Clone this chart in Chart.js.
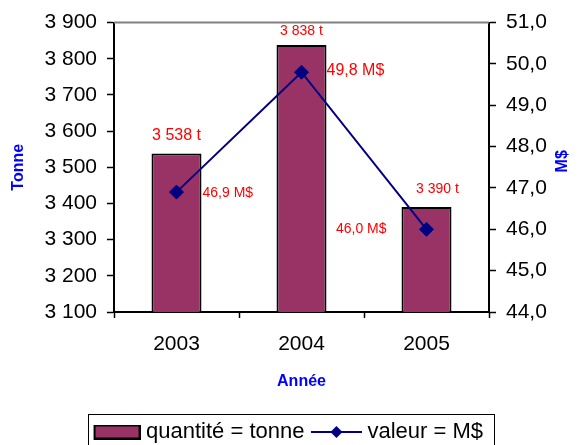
<!DOCTYPE html>
<html lang="fr">
<head>
<meta charset="utf-8">
<title>Quantité et valeur</title>
<script src="https://cdn.jsdelivr.net/npm/chart.js@4.4.0/dist/chart.umd.min.js"></script>
<style>
    html, body { margin: 0; padding: 0; background: #ffffff; }
    .conteneur { width: 578px; height: 445px; }
</style>
</head>
<body>
<div class="conteneur"><canvas id="monGraphique" width="578" height="445"></canvas></div>
<script>
// DONNÉES
const annees = ["2003", "2004", "2005"]
const quantites = [3538, 3838, 3390] // tonnes
const valeurs = [46.9, 49.8, 46.0] // M$
const limitesTonne = [3100, 3900] // axe gauche, pas de 100
const limitesValeur = [44, 51] // axe droit, pas de 1

const POLICE = "Arial, 'Liberation Sans', sans-serif"
const PRUNE = "#993366"
const MARINE = "#000080"

// FONCTIONS
function formatMilliers(v) {
    return String(v).replace(/\B(?=(\d{3})+(?!\d))/g, " ")
}

function formatDecimal(v) {
    return Number(v).toFixed(1).replace(".", ",")
}

// pastilles de la légende : 51 px de large, centrées sur une case de 40 px
function creerPastilleBarre() {
    const c = document.createElement("canvas")
    c.width = 51
    c.height = 15
    const ctx = c.getContext("2d")
    ctx.fillStyle = "#000000"
    ctx.fillRect(4, 0, 47, 15)
    ctx.fillStyle = PRUNE
    ctx.fillRect(6, 2, 43, 11)
    return c
}

function creerPastilleLigne() {
    const c = document.createElement("canvas")
    c.width = 51
    c.height = 16
    const ctx = c.getContext("2d")
    ctx.strokeStyle = MARINE
    ctx.lineWidth = 2
    ctx.beginPath()
    ctx.moveTo(0, 8)
    ctx.lineTo(51, 8)
    ctx.stroke()
    ctx.fillStyle = MARINE
    ctx.beginPath()
    ctx.moveTo(25.5, 2)
    ctx.lineTo(31.5, 8)
    ctx.lineTo(25.5, 14)
    ctx.lineTo(19.5, 8)
    ctx.closePath()
    ctx.fill()
    return c
}

// cadre gris en haut, titre M$ à droite et bordure de la légende
const cadre = {
    id: "cadre",
    beforeDatasetsDraw(chart) {
        const { ctx, chartArea } = chart
        ctx.save()
        ctx.strokeStyle = "#808080"
        ctx.lineWidth = 2
        ctx.beginPath()
        ctx.moveTo(chartArea.left, chartArea.top)
        ctx.lineTo(chartArea.right, chartArea.top)
        ctx.stroke()
        ctx.restore()
    },
    afterDraw(chart) {
        const { ctx, chartArea } = chart
        ctx.save()
        // titre de l'axe droit, écrit de bas en haut comme dans Excel
        ctx.translate(563, (chartArea.top + chartArea.bottom) / 2 - 6)
        ctx.rotate(-Math.PI / 2)
        ctx.font = "bold 16px " + POLICE
        ctx.fillStyle = "#0000ff"
        ctx.textAlign = "center"
        ctx.textBaseline = "middle"
        ctx.fillText("M$", 0, 0)
        ctx.restore()

        const boites = chart.legend.legendHitBoxes
        if (!boites || !boites.length) return
        const premiere = boites[0]
        const derniere = boites[boites.length - 1]
        const gauche = premiere.left - 7
        const droite = derniere.left + derniere.width + 11
        const haut = premiere.top - 7
        ctx.save()
        ctx.strokeStyle = "#000000"
        ctx.lineWidth = 1
        ctx.strokeRect(Math.round(gauche) + 0.5, Math.round(haut) + 0.5, Math.round(droite - gauche), 60)
        ctx.restore()
    }
}

// étiquettes rouges des valeurs
const etiquettes = {
    id: "etiquettes",
    afterDatasetsDraw(chart, args, opts) {
        const ctx = chart.ctx
        ctx.save()
        ctx.fillStyle = "#ff0000"
        ctx.textBaseline = "middle"
        chart.getDatasetMeta(0).data.forEach((barre, i) => {
            const p = opts.barres[i]
            ctx.font = p.taille + "px " + POLICE
            ctx.textAlign = "center"
            ctx.fillText(formatMilliers(quantites[i]) + " t", barre.x + p.dx, barre.y + p.dy)
        })
        chart.getDatasetMeta(1).data.forEach((point, i) => {
            const p = opts.points[i]
            ctx.font = p.taille + "px " + POLICE
            ctx.textAlign = p.alignement
            ctx.fillText(formatDecimal(valeurs[i]) + " M$", point.x + p.dx, point.y + p.dy)
        })
        ctx.restore()
    }
}

const pastilleBarre = creerPastilleBarre()
const pastilleLigne = creerPastilleLigne()
const policeAxes = { family: POLICE, size: 21 }

const ctx = document.getElementById("monGraphique").getContext("2d")
const graphique = new Chart(ctx, {
    type: "bar",
    data: {
        labels: annees,
        datasets: [
            {
                type: "bar",
                label: "quantité = tonne",
                data: quantites,
                yAxisID: "y",
                backgroundColor: PRUNE,
                borderColor: "#000000",
                borderWidth: 2,
                barPercentage: 0.4,
                categoryPercentage: 1,
                order: 1,
            },
            {
                type: "line",
                label: "valeur = M$",
                data: valeurs,
                yAxisID: "y1",
                borderColor: MARINE,
                borderWidth: 2,
                pointStyle: "rectRot",
                pointRadius: 7,
                pointBackgroundColor: MARINE,
                pointBorderColor: MARINE,
                pointBorderWidth: 1,
                tension: 0,
                order: 0,
            },
        ],
    },
    options: {
        responsive: false,
        animation: false,
        layout: {
            padding: { top: 20, bottom: -8, left: 0, right: 0 },
        },
        scales: {
            x: {
                grid: { drawOnChartArea: false, tickLength: 6, tickColor: "#000000", tickWidth: 1.5 },
                border: { color: "#000000", width: 2 },
                ticks: { font: policeAxes, color: "#000000", padding: 14 },
                title: {
                    display: true,
                    text: "Année",
                    color: "#0000ff",
                    font: { family: POLICE, size: 16, weight: "bold" },
                    padding: { top: 0, bottom: 18 },
                },
                afterFit: (echelle) => { echelle.height = 97 },
            },
            y: {
                position: "left",
                min: limitesTonne[0],
                max: limitesTonne[1],
                grid: { drawOnChartArea: false, tickLength: 7, tickColor: "#000000", tickWidth: 1.5 },
                border: { color: "#000000", width: 2 },
                ticks: {
                    stepSize: 100,
                    font: policeAxes,
                    color: "#000000",
                    padding: 10,
                    callback: (v) => formatMilliers(v),
                },
                title: {
                    display: true,
                    text: "Tonne",
                    color: "#0000ff",
                    font: { family: POLICE, size: 16, weight: "bold" },
                    padding: { top: 9, bottom: 0 },
                },
                afterFit: (echelle) => { echelle.width = 114 },
            },
            y1: {
                position: "right",
                min: limitesValeur[0],
                max: limitesValeur[1],
                grid: { drawOnChartArea: false, tickLength: 7, tickColor: "#000000", tickWidth: 1.5 },
                border: { color: "#000000", width: 2 },
                ticks: {
                    stepSize: 1,
                    font: policeAxes,
                    color: "#000000",
                    padding: 10,
                    callback: (v) => formatDecimal(v),
                },
                afterFit: (echelle) => { echelle.width = 89 },
            },
        },
        plugins: {
            legend: {
                position: "bottom",
                labels: {
                    usePointStyle: true,
                    pointStyleWidth: 40,
                    padding: 12,
                    color: "#000000",
                    font: { family: POLICE, size: 22 },
                    sort: (a, b) => a.datasetIndex - b.datasetIndex,
                    generateLabels: (chart) => {
                        const items = Chart.defaults.plugins.legend.labels.generateLabels(chart)
                        items.forEach((item) => {
                            item.pointStyle = item.datasetIndex === 0 ? pastilleBarre : pastilleLigne
                        })
                        return items
                    },
                },
            },
            tooltip: { enabled: false },
            etiquettes: {
                barres: [
                    { dx: 0, dy: -18, taille: 16 },
                    { dx: 0, dy: -14, taille: 14 },
                    { dx: 11, dy: -18, taille: 14 },
                ],
                points: [
                    { dx: 26, dy: 1, alignement: "left", taille: 14 },
                    { dx: 25, dy: -2, alignement: "left", taille: 16 },
                    { dx: -40, dy: 0, alignement: "right", taille: 14 },
                ],
            },
        },
    },
    plugins: [cadre, etiquettes],
})
</script>
</body>
</html>
